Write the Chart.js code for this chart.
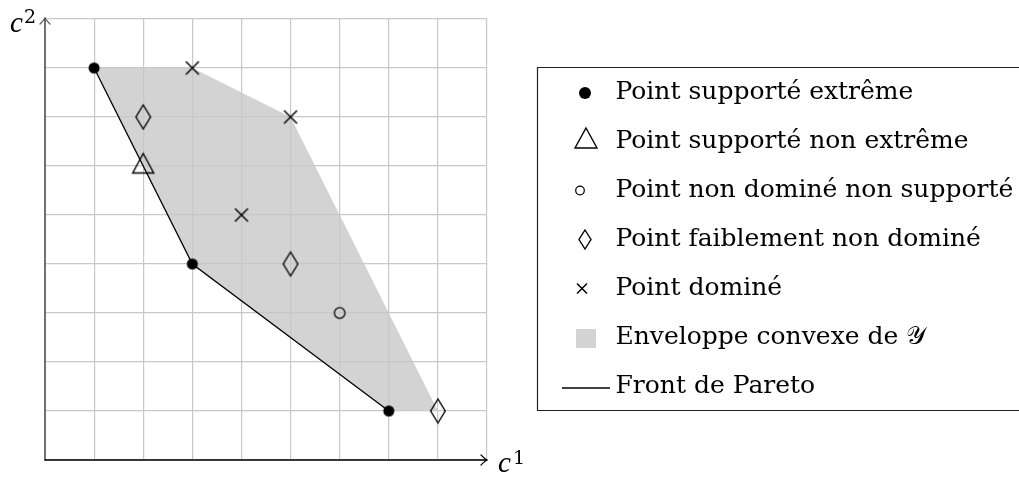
<!DOCTYPE html>
<html lang="fr">
<head>
<meta charset="UTF-8">
<title>Points non dominés</title>
<script src="https://cdn.jsdelivr.net/npm/chart.js"></script>
<style>
    body { margin: 0; background: #fff; }
    .container { width: 1019px; height: 477px; position: relative; }
</style>
</head>
<body>
<div class="container">
    <canvas id="myChart"></canvas>
</div>
<script>
// données (c1, c2)
const extremeX = [1, 3, 7];
const extremeY = [8, 4, 1];
const nonExtremeX = [2];
const nonExtremeY = [6];
const unsupportedX = [6];
const unsupportedY = [3];
const weakX = [2, 5, 8];
const weakY = [7, 4, 1];
const dominatedX = [3, 5, 4];
const dominatedY = [8, 7, 5];
const hullX = [1, 3, 5, 8, 7, 3, 1];
const hullY = [8, 8, 7, 1, 1, 4, 8];
const frontX = [1, 3, 7];
const frontY = [8, 4, 1];
const axisMin = 0;
const axisMax = 9;
const legendLabels = [
    'Point supporté extrême',
    'Point supporté non extrême',
    'Point non dominé non supporté',
    'Point faiblement non dominé',
    'Point dominé',
    'Enveloppe convexe de 𝒴',
    'Front de Pareto'
];

const FONT = '"DejaVu Serif", serif';

function toPoints(xs, ys) {
    return xs.map((x, i) => ({x: x, y: ys[i]}));
}

// petits canvas pour les marqueurs (taille impaire en hauteur pour tomber sur des pixels entiers)
function marker(w, h, draw) {
    const c = document.createElement('canvas');
    c.width = w;
    c.height = h;
    const g = c.getContext('2d');
    g.strokeStyle = '#000';
    g.fillStyle = '#000';
    g.lineWidth = 1.4;
    draw(g, w / 2, h / 2);
    return c;
}
const dot = (r, dx, dy) => marker(60, 35, (g, cx, cy) => {
    g.beginPath(); g.arc(cx + dx, cy + dy, r, 0, Math.PI * 2); g.fill();
});
const tri = (hw, up, down, dx, dy) => marker(60, 35, (g, cx, cy) => {
    cx += dx; cy += dy;
    g.beginPath(); g.moveTo(cx, cy - up); g.lineTo(cx + hw, cy + down); g.lineTo(cx - hw, cy + down);
    g.closePath(); g.stroke();
});
const ring = (r, dx, dy) => marker(60, 35, (g, cx, cy) => {
    g.lineWidth = 1.25;
    g.beginPath(); g.arc(cx + dx, cy + dy, r, 0, Math.PI * 2); g.stroke();
});
const diamond = (hw, hh, dx, dy) => marker(60, 35, (g, cx, cy) => {
    cx += dx; cy += dy;
    g.beginPath(); g.moveTo(cx, cy - hh); g.lineTo(cx + hw, cy); g.lineTo(cx, cy + hh); g.lineTo(cx - hw, cy);
    g.closePath(); g.stroke();
});
const cross = (s, dx, dy) => marker(60, 35, (g, cx, cy) => {
    cx += dx; cy += dy;
    g.lineWidth = 1.5;
    g.beginPath(); g.moveTo(cx - s, cy - s); g.lineTo(cx + s, cy + s);
    g.moveTo(cx + s, cy - s); g.lineTo(cx - s, cy + s); g.stroke();
});
const square = (w, h, dx, dy) => marker(60, 35, (g, cx, cy) => {
    g.fillStyle = '#d3d3d3';
    g.fillRect(cx + dx - w / 2, cy + dy - h / 2, w, h);
});
const dash = (len, dx, dy) => marker(60, 35, (g, cx, cy) => {
    g.lineWidth = 1.3;
    g.beginPath(); g.moveTo(cx + dx - len / 2, cy + dy); g.lineTo(cx + dx + len / 2, cy + dy); g.stroke();
});

// marqueurs du graphique
const ptExtreme = dot(5.5, 0, 0);
const ptTriangle = tri(10.5, 12.5, 7, 0, 0);
const ptRing = ring(5.3, 0, 0);
const ptDiamond = diamond(7.3, 12, 0, 0);
const ptCross = cross(6.5, 0, 0);

// marqueurs de la légende
const legendMarkers = [
    dot(6, 3, 0.5),
    tri(11, 13.5, 6.5, 4, 0),
    ring(4.3, -2, 0),
    diamond(6, 9.5, 3, 0),
    cross(5, 0, 0),
    square(20, 19, 4, 1),
    dash(48, 4, 1.5)
];
// ordre des datasets dans la légende
const legendOrder = [2, 3, 4, 5, 6, 0, 1];

const scaleBase = {
    type: 'linear',
    min: axisMin,
    max: axisMax,
    ticks: { display: false, stepSize: 1 },
    grid: { color: '#c8c8c8', lineWidth: 1.2, drawTicks: false },
    border: { display: false }
};

const axesPlugin = {
    id: 'axesAndFrame',
    afterInit(chart) {
        const legend = chart.legend;
        const fit = legend.fit;
        legend.fit = function () {
            fit.call(this);
            this.width = 482;
        };
    },
    afterDraw(chart) {
        const ctx = chart.ctx;
        const xs = chart.scales.x;
        const ys = chart.scales.y;
        const x0 = xs.getPixelForValue(axisMin);
        const y0 = ys.getPixelForValue(axisMin);
        const xEnd = xs.getPixelForValue(axisMax);
        const yEnd = ys.getPixelForValue(axisMax) - 1;
        ctx.save();
        ctx.lineCap = 'round';
        ctx.lineJoin = 'round';
        // axe vertical
        ctx.strokeStyle = '#555';
        ctx.lineWidth = 1.6;
        ctx.beginPath(); ctx.moveTo(x0, y0); ctx.lineTo(x0, yEnd); ctx.stroke();
        ctx.lineWidth = 1.2;
        ctx.beginPath(); ctx.moveTo(x0 - 5, yEnd + 6); ctx.quadraticCurveTo(x0 - 1, yEnd + 2, x0, yEnd);
        ctx.quadraticCurveTo(x0 + 1, yEnd + 2, x0 + 5, yEnd + 6); ctx.stroke();
        // axe horizontal
        ctx.strokeStyle = '#000';
        ctx.lineWidth = 1.4;
        ctx.beginPath(); ctx.moveTo(x0, y0); ctx.lineTo(xEnd, y0); ctx.stroke();
        ctx.lineWidth = 1.2;
        ctx.beginPath(); ctx.moveTo(xEnd - 6, y0 - 5); ctx.quadraticCurveTo(xEnd - 2, y0 - 1, xEnd, y0);
        ctx.quadraticCurveTo(xEnd - 2, y0 + 1, xEnd - 6, y0 + 5); ctx.stroke();

        // libellés c^1 et c^2
        ctx.fillStyle = '#000';
        ctx.textBaseline = 'alphabetic';
        ctx.font = 'italic 29px "Liberation Serif", serif';
        ctx.fillText('c', 10, 32);
        ctx.fillText('c', xEnd + 11, y0 + 12);
        ctx.font = '19px ' + FONT;
        ctx.fillText('2', 24, 23);
        ctx.fillText('1', xEnd + 26, y0 + 4);

        // cadre de la légende
        const boxes = chart.legend.legendHitBoxes;
        if (boxes.length) {
            const top = Math.round(boxes[0].top - 13) + 0.5;
            const last = boxes[boxes.length - 1];
            const bottom = Math.round(last.top + 36) + 0.5;
            ctx.strokeStyle = '#222';
            ctx.lineWidth = 1.2;
            ctx.strokeRect(Math.round(chart.legend.left) + 0.5, top, chart.width, bottom - top);
        }
        ctx.restore();
    }
};

const ctx = document.getElementById('myChart').getContext('2d');
const chart = new Chart(ctx, {
    type: 'scatter',
    data: {
        datasets: [
            {
                label: legendLabels[5],
                data: toPoints(hullX, hullY),
                showLine: true,
                fill: 'shape',
                backgroundColor: '#d3d3d3',
                borderWidth: 0,
                borderColor: 'rgba(0,0,0,0)',
                pointRadius: 0
            },
            {
                label: legendLabels[6],
                data: toPoints(frontX, frontY),
                showLine: true,
                fill: false,
                borderColor: '#000',
                borderWidth: 1.3,
                pointRadius: 0
            },
            { label: legendLabels[0], data: toPoints(extremeX, extremeY), pointStyle: ptExtreme },
            { label: legendLabels[1], data: toPoints(nonExtremeX, nonExtremeY), pointStyle: ptTriangle },
            { label: legendLabels[2], data: toPoints(unsupportedX, unsupportedY), pointStyle: ptRing },
            { label: legendLabels[3], data: toPoints(weakX, weakY), pointStyle: ptDiamond },
            { label: legendLabels[4], data: toPoints(dominatedX, dominatedY), pointStyle: ptCross }
        ]
    },
    options: {
        responsive: true,
        maintainAspectRatio: false,
        animation: false,
        events: [],
        layout: { padding: { top: 19, left: 0, right: 0, bottom: 0 } },
        scales: {
            x: Object.assign({}, scaleBase, {
                position: 'bottom',
                afterFit(scale) { scale.height = 17; }
            }),
            y: Object.assign({}, scaleBase, {
                position: 'left',
                afterFit(scale) { scale.width = 45; }
            }),
            y2: {
                type: 'linear',
                position: 'right',
                min: axisMin,
                max: axisMax,
                ticks: { display: false },
                grid: { display: false },
                border: { display: false },
                afterFit(scale) { scale.width = 50; }
            }
        },
        plugins: {
            filler: { drawTime: 'beforeDraw' },
            tooltip: { enabled: false },
            legend: {
                position: 'right',
                align: 'center',
                fullSize: false,
                onClick: null,
                labels: {
                    usePointStyle: true,
                    pointStyleWidth: 42,
                    padding: 24,
                    color: '#000',
                    textAlign: 'left',
                    font: { family: FONT, size: 25 },
                    generateLabels(chart) {
                        return legendOrder.map((dsIndex, i) => ({
                            text: legendLabels[i],
                            pointStyle: legendMarkers[i],
                            fillStyle: '#000',
                            strokeStyle: '#000',
                            lineWidth: 0,
                            hidden: false,
                            fontColor: '#000',
                            textAlign: 'left',
                            datasetIndex: dsIndex
                        }));
                    }
                }
            }
        }
    },
    plugins: [axesPlugin]
});
</script>
</body>
</html>
